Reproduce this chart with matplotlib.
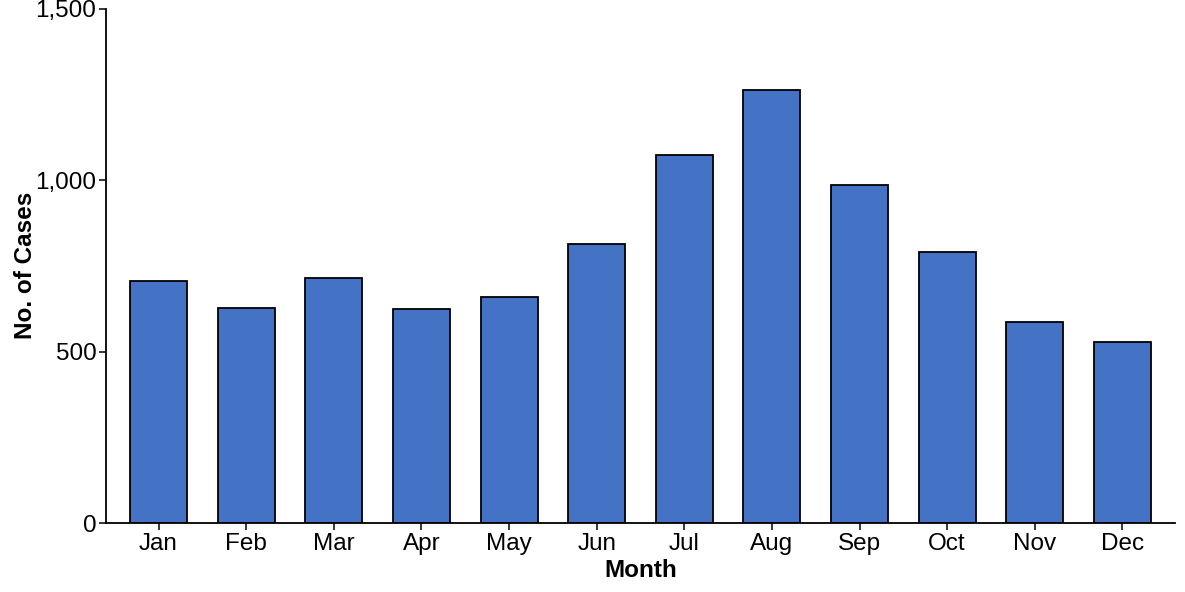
import matplotlib.pyplot as plt
from matplotlib.ticker import FuncFormatter

plt.rcParams['font.family'] = ['Liberation Sans', 'DejaVu Sans']

months = ['Jan', 'Feb', 'Mar', 'Apr', 'May', 'Jun', 'Jul', 'Aug', 'Sep', 'Oct', 'Nov', 'Dec']
cases = [705, 626, 714, 624, 660, 814, 1074, 1263, 986, 791, 587, 528]

fig = plt.figure(figsize=(11.85, 5.92), dpi=100)
ax = fig.add_axes([106 / 1185, 69 / 592, (1175 - 106) / 1185, (523 - 8.5) / 592])

x = range(1, len(months) + 1)
ax.bar(x, cases, width=0.65, color='#4472C4', edgecolor='black', linewidth=1.3, zorder=2)

ax.set_xlim(0.4, 12.6)
ax.set_ylim(0, 1500)
ax.set_xticks(list(x))
ax.set_xticklabels(months)
ax.set_yticks([0, 500, 1000, 1500])
ax.yaxis.set_major_formatter(FuncFormatter(lambda v, p: f'{int(v):,}'))

for side in ['top', 'right']:
    ax.spines[side].set_visible(False)
for side in ['left', 'bottom']:
    ax.spines[side].set_linewidth(1.3)

ax.tick_params(axis='both', labelsize=17.5, length=5, width=1.1, color='black', labelcolor='black', pad=2)
ax.set_xlabel('Month', fontsize=17.5, fontweight='bold', labelpad=3)
ax.set_ylabel('No. of Cases', fontsize=17.5, fontweight='bold', labelpad=-1)

fig.savefig('out.png', dpi=100)
